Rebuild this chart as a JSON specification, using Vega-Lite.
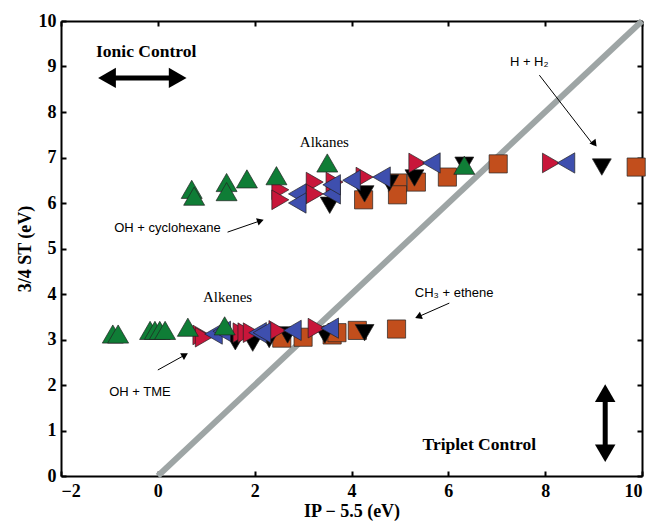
{
  "$schema": "https://vega.github.io/schema/vega-lite/v6.json",
  "width": 581,
  "height": 455,
  "autosize": "none",
  "padding": {"left": 61, "top": 21, "right": 11, "bottom": 47},
  "background": "white",
  "config": {
    "view": {"stroke": null},
    "axis": {
      "grid": false,
      "domainColor": "black",
      "domainWidth": 2,
      "tickColor": "black",
      "tickWidth": 2,
      "tickSize": -5,
      "labelFont": "Liberation Serif",
      "labelFontWeight": "bold",
      "labelFontSize": 18,
      "labelColor": "black",
      "titleFont": "Liberation Serif",
      "titleFontWeight": "bold",
      "titleFontSize": 18,
      "titleColor": "black"
    }
  },
  "resolve": {"axis": {"x": "independent", "y": "independent"}},
  "layer": [
    {
      "data": {"values": [{"x": 0, "y": 0}, {"x": 10, "y": 10}]},
      "mark": {"type": "line", "stroke": "#9ea5a5", "strokeWidth": 6},
      "encoding": {
        "x": {"field": "x", "type": "quantitative", "scale": {"domain": [-2, 10], "nice": false},
              "axis": {"orient": "bottom", "values": [-2, 0, 2, 4, 6, 8, 10], "title": "IP − 5.5 (eV)", "labelPadding": 11, "titlePadding": 2}},
        "y": {"field": "y", "type": "quantitative", "scale": {"domain": [0, 10], "nice": false},
              "axis": {"orient": "left", "values": [0, 1, 2, 3, 4, 5, 6, 7, 8, 9, 10], "title": "3/4 ST (eV)", "labelPadding": 10, "titlePadding": 4}}
      }
    },
    {
      "data": {"values": [{"x": 0, "y": 0}]},
      "mark": {"type": "point", "opacity": 0},
      "encoding": {
        "x": {"field": "x", "type": "quantitative", "axis": {"orient": "top", "values": [-2, 0, 2, 4, 6, 8, 10], "labels": false, "title": null}},
        "y": {"field": "y", "type": "quantitative", "axis": {"orient": "right", "values": [0, 1, 2, 3, 4, 5, 6, 7, 8, 9, 10], "labels": false, "title": null}}
      }
    },
    {
      "data": {"values": [
        {"x": 4.25, "y": 6.07, "s": "sq"}, {"x": 4.95, "y": 6.44, "s": "sq"}, {"x": 4.95, "y": 6.18, "s": "sq"}, {"x": 5.34, "y": 6.46, "s": "sq"}, {"x": 5.98, "y": 6.57, "s": "sq"}, {"x": 7.03, "y": 6.86, "s": "sq"}, {"x": 9.88, "y": 6.79, "s": "sq"},
        {"x": 2.56, "y": 3.03, "s": "sq"}, {"x": 3.0, "y": 3.05, "s": "sq"}, {"x": 3.6, "y": 3.1, "s": "sq"}, {"x": 3.7, "y": 3.15, "s": "sq"}, {"x": 4.12, "y": 3.2, "s": "sq"}, {"x": 4.93, "y": 3.23, "s": "sq"},
        {"x": 3.55, "y": 5.95, "s": "down"}, {"x": 4.27, "y": 6.2, "s": "down"}, {"x": 4.78, "y": 6.44, "s": "down"}, {"x": 5.3, "y": 6.55, "s": "down"}, {"x": 6.33, "y": 6.83, "s": "down"}, {"x": 9.17, "y": 6.79, "s": "down"},
        {"x": 1.6, "y": 2.95, "s": "down"}, {"x": 1.96, "y": 2.92, "s": "down"}, {"x": 2.3, "y": 3.0, "s": "down"}, {"x": 2.68, "y": 3.1, "s": "down"}, {"x": 3.45, "y": 3.1, "s": "down"}, {"x": 4.27, "y": 3.15, "s": "down"},
        {"x": 2.53, "y": 6.29, "s": "right"}, {"x": 2.53, "y": 6.07, "s": "right"}, {"x": 3.24, "y": 6.46, "s": "right"}, {"x": 3.24, "y": 6.2, "s": "right"}, {"x": 3.65, "y": 6.46, "s": "right"}, {"x": 4.27, "y": 6.57, "s": "right"}, {"x": 5.36, "y": 6.88, "s": "right"}, {"x": 8.12, "y": 6.88, "s": "right"},
        {"x": 0.9, "y": 3.1, "s": "right"}, {"x": 0.95, "y": 3.05, "s": "right"}, {"x": 1.73, "y": 3.15, "s": "right"}, {"x": 1.83, "y": 3.15, "s": "right"}, {"x": 1.94, "y": 3.15, "s": "right"}, {"x": 2.47, "y": 3.2, "s": "right"}, {"x": 3.28, "y": 3.25, "s": "right"},
        {"x": 2.88, "y": 6.2, "s": "left"}, {"x": 2.88, "y": 6.0, "s": "left"}, {"x": 3.59, "y": 6.2, "s": "left"}, {"x": 3.59, "y": 6.4, "s": "left"}, {"x": 4.0, "y": 6.5, "s": "left"}, {"x": 4.62, "y": 6.57, "s": "left"}, {"x": 5.65, "y": 6.88, "s": "left"}, {"x": 8.43, "y": 6.88, "s": "left"},
        {"x": 1.15, "y": 3.12, "s": "left"}, {"x": 1.32, "y": 3.18, "s": "left"}, {"x": 2.06, "y": 3.15, "s": "left"}, {"x": 2.15, "y": 3.15, "s": "left"}, {"x": 2.78, "y": 3.2, "s": "left"}, {"x": 3.55, "y": 3.25, "s": "left"},
        {"x": 0.7, "y": 6.3, "s": "up"}, {"x": 0.75, "y": 6.15, "s": "up"}, {"x": 1.42, "y": 6.45, "s": "up"}, {"x": 1.42, "y": 6.25, "s": "up"}, {"x": 1.84, "y": 6.53, "s": "up"}, {"x": 2.45, "y": 6.6, "s": "up"}, {"x": 3.5, "y": 6.88, "s": "up"}, {"x": 6.33, "y": 6.83, "s": "up"},
        {"x": -0.93, "y": 3.12, "s": "up"}, {"x": -0.82, "y": 3.12, "s": "up"}, {"x": -0.16, "y": 3.2, "s": "up"}, {"x": -0.06, "y": 3.2, "s": "up"}, {"x": 0.04, "y": 3.2, "s": "up"}, {"x": 0.15, "y": 3.2, "s": "up"}, {"x": 0.62, "y": 3.27, "s": "up"}, {"x": 1.38, "y": 3.3, "s": "up"}
      ]},
      "mark": {"type": "point", "filled": true, "opacity": 1, "stroke": "#222222", "strokeWidth": 0.7},
      "encoding": {
        "x": {"field": "x", "type": "quantitative", "axis": null},
        "y": {"field": "y", "type": "quantitative", "axis": null},
        "shape": {"field": "s", "type": "nominal", "legend": null,
                  "scale": {"domain": ["sq", "down", "right", "left", "up"], "range": ["square", "triangle-down", "triangle-right", "triangle-left", "triangle-up"]}},
        "color": {"field": "s", "type": "nominal", "legend": null,
                  "scale": {"domain": ["sq", "down", "right", "left", "up"], "range": ["#c24e1c", "#000000", "#c8163a", "#3e4fae", "#0f7d36"]}},
        "size": {"field": "s", "type": "nominal", "legend": null,
                 "scale": {"domain": ["sq", "down", "right", "left", "up"], "range": [330, 440, 440, 440, 440]}}
      }
    },
    {
      "data": {"values": [
        {"x": 7.88, "y": 8.81, "x2": 9.0, "y2": 7.27},
        {"x": 1.44, "y": 5.36, "x2": 2.12, "y2": 5.61},
        {"x": 0.0, "y": 2.33, "x2": 0.56, "y2": 2.66},
        {"x": 6.02, "y": 3.8, "x2": 5.38, "y2": 3.5}
      ]},
      "mark": {"type": "rule", "color": "black", "strokeWidth": 1},
      "encoding": {
        "x": {"field": "x", "type": "quantitative", "axis": null},
        "y": {"field": "y", "type": "quantitative", "axis": null},
        "x2": {"field": "x2"},
        "y2": {"field": "y2"}
      }
    },
    {
      "data": {"values": [{"x": 9.02, "y": 7.3}]},
      "mark": {"type": "point", "shape": "triangle-up", "filled": true, "color": "black", "opacity": 1, "size": 60, "angle": 142},
      "encoding": {"x": {"field": "x", "type": "quantitative", "axis": null}, "y": {"field": "y", "type": "quantitative", "axis": null}}
    },
    {
      "data": {"values": [{"x": 2.12, "y": 5.61}]},
      "mark": {"type": "point", "shape": "triangle-up", "filled": true, "color": "black", "opacity": 1, "size": 60, "angle": 71},
      "encoding": {"x": {"field": "x", "type": "quantitative", "axis": null}, "y": {"field": "y", "type": "quantitative", "axis": null}}
    },
    {
      "data": {"values": [{"x": 0.56, "y": 2.66}]},
      "mark": {"type": "point", "shape": "triangle-up", "filled": true, "color": "black", "opacity": 1, "size": 60, "angle": 60},
      "encoding": {"x": {"field": "x", "type": "quantitative", "axis": null}, "y": {"field": "y", "type": "quantitative", "axis": null}}
    },
    {
      "data": {"values": [{"x": 5.38, "y": 3.5}]},
      "mark": {"type": "point", "shape": "triangle-up", "filled": true, "color": "black", "opacity": 1, "size": 60, "angle": 247},
      "encoding": {"x": {"field": "x", "type": "quantitative", "axis": null}, "y": {"field": "y", "type": "quantitative", "axis": null}}
    },
    {
      "data": {"values": [
        {"x": -1.0, "y": 8.75, "x2": 0.4, "y2": 8.75},
        {"x": 9.24, "y": 1.8, "x2": 9.24, "y2": 0.55}
      ]},
      "mark": {"type": "rule", "color": "black", "strokeWidth": 5},
      "encoding": {
        "x": {"field": "x", "type": "quantitative", "axis": null},
        "y": {"field": "y", "type": "quantitative", "axis": null},
        "x2": {"field": "x2"},
        "y2": {"field": "y2"}
      }
    },
    {
      "data": {"values": [
        {"x": -1.05, "y": 8.75, "d": "left"},
        {"x": 0.41, "y": 8.75, "d": "right"},
        {"x": 9.24, "y": 1.82, "d": "up"},
        {"x": 9.24, "y": 0.5, "d": "down"}
      ]},
      "mark": {"type": "point", "filled": true, "color": "black", "opacity": 1, "size": 420},
      "encoding": {
        "x": {"field": "x", "type": "quantitative", "axis": null},
        "y": {"field": "y", "type": "quantitative", "axis": null},
        "shape": {"field": "d", "type": "nominal", "legend": null,
                  "scale": {"domain": ["left", "right", "up", "down"], "range": ["triangle-left", "triangle-right", "triangle-up", "triangle-down"]}}
      }
    },
    {
      "data": {"values": [
        {"x": -0.24, "y": 9.32, "t": "Ionic Control"},
        {"x": 6.64, "y": 0.68, "t": "Triplet Control"}
      ]},
      "mark": {"type": "text", "font": "Liberation Serif", "fontWeight": "bold", "fontSize": 17.5, "color": "black"},
      "encoding": {
        "x": {"field": "x", "type": "quantitative", "axis": null},
        "y": {"field": "y", "type": "quantitative", "axis": null},
        "text": {"field": "t"}
      }
    },
    {
      "data": {"values": [
        {"x": 3.44, "y": 7.34, "t": "Alkanes"},
        {"x": 1.44, "y": 3.93, "t": "Alkenes"}
      ]},
      "mark": {"type": "text", "font": "Liberation Serif", "fontSize": 15, "color": "black"},
      "encoding": {
        "x": {"field": "x", "type": "quantitative", "axis": null},
        "y": {"field": "y", "type": "quantitative", "axis": null},
        "text": {"field": "t"}
      }
    },
    {
      "data": {"values": [
        {"x": 0.2, "y": 5.45, "t": "OH + cyclohexane"},
        {"x": -0.37, "y": 1.85, "t": "OH + TME"},
        {"x": 6.12, "y": 4.02, "t": "CH₃ + ethene"},
        {"x": 7.67, "y": 9.1, "t": "H + H₂"}
      ]},
      "mark": {"type": "text", "font": "Liberation Sans", "fontSize": 13, "color": "black"},
      "encoding": {
        "x": {"field": "x", "type": "quantitative", "axis": null},
        "y": {"field": "y", "type": "quantitative", "axis": null},
        "text": {"field": "t"}
      }
    }
  ]
}
